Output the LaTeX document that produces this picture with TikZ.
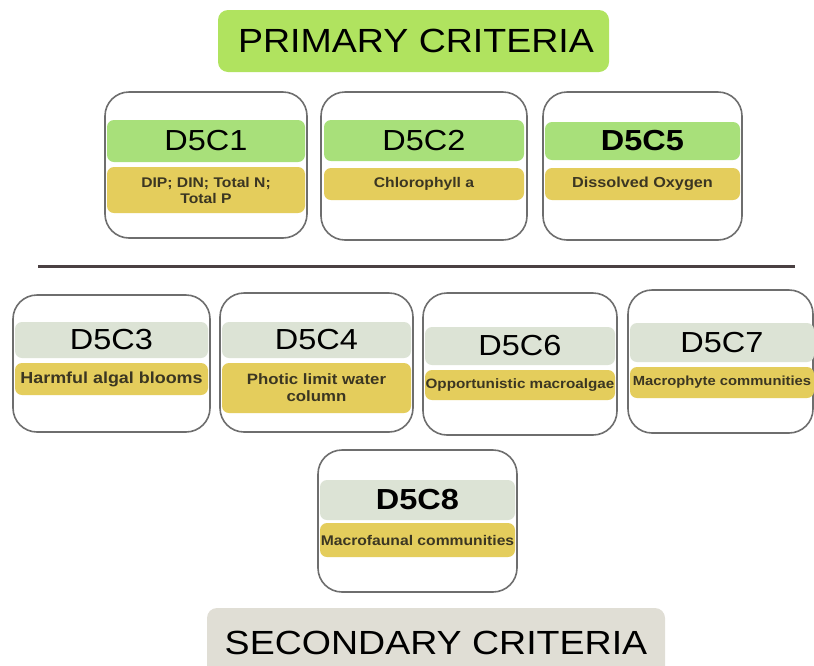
\documentclass[tikz,border=0pt]{standalone}
\usepackage{fontspec}
\setmainfont{Liberation Sans}[FakeStretch=1.12]
\usepackage{xcolor}
\usepackage{tikz}

\definecolor{titlegreen}{HTML}{B0E35F}
\definecolor{headgreen}{HTML}{A8E07A}
\definecolor{headgrey}{HTML}{DCE3D5}
\definecolor{subyellow}{HTML}{E4CD5C}
\definecolor{secgrey}{HTML}{E0DED5}
\definecolor{framegrey}{HTML}{6E6E6E}
\definecolor{rulebrown}{HTML}{4A4042}
\definecolor{subink}{HTML}{3B3622}
\newcommand{\fsz}[2]{\fontsize{#1}{#2}\selectfont}

\begin{document}
\begin{tikzpicture}[x=1pt,y=-1pt,
  frame/.style={draw=framegrey, line width=1.6pt, rounded corners=24pt, fill=white},
  headband/.style={rounded corners=7pt, inner sep=0pt, font=\fsz{29}{32}},
  subband/.style={rounded corners=7pt, inner sep=0pt, fill=subyellow, text=subink, align=center, font=\bfseries\fsz{14}{16}}]

\useasboundingbox (0,0) rectangle (814,665);

% primary criteria
\fill[titlegreen, rounded corners=10pt] (218,10) rectangle (609,72);
\node[font=\fsz{33.5}{36}, inner sep=0pt] (primary) at (416,41) {PRIMARY CRITERIA};

\draw[frame] (105,92) rectangle (307,238);
\node[headband, fill=headgreen, minimum width=198pt, minimum height=42pt] (c1) at (206,141) {D5C1};
\node[subband, minimum width=198pt, minimum height=46pt] (c1sub) at (206,190) {DIP; DIN; Total N;\\Total P};

\draw[frame] (321,92) rectangle (527,240);
\node[headband, fill=headgreen, minimum width=200pt, minimum height=41pt] (c2) at (424,140.5) {D5C2};
\node[subband, minimum width=200pt, minimum height=32pt] (c2sub) at (424,184) {Chlorophyll a};

\draw[frame] (543,92) rectangle (742,240);
\node[headband, fill=headgreen, minimum width=195pt, minimum height=38pt, font=\bfseries\fsz{29}{32}] (c5) at (642.5,141) {D5C5};
\node[subband, minimum width=195pt, minimum height=32pt, font=\bfseries\fsz{14.5}{17}] (c5sub) at (642.5,184) {Dissolved Oxygen};

% divider
\draw[rulebrown, line width=3pt] (38,266) -- (795,266);

% secondary criteria boxes
\draw[frame] (13,295) rectangle (210,432);
\node[headband, fill=headgrey, minimum width=193pt, minimum height=36pt] (c3) at (111.5,340) {D5C3};
\node[subband, minimum width=193pt, minimum height=32pt, font=\bfseries\fsz{16}{18}] (c3sub) at (111.5,379) {Harmful algal blooms};

\draw[frame] (220,293) rectangle (413,432);
\node[headband, fill=headgrey, minimum width=189pt, minimum height=36pt] (c4) at (316.5,340) {D5C4};
\node[subband, minimum width=189pt, minimum height=50pt, font=\bfseries\fsz{15}{17}] (c4sub) at (316.5,388) {Photic limit water\\column};

\draw[frame] (423,293) rectangle (617,435);
\node[headband, fill=headgrey, minimum width=190pt, minimum height=38pt] (c6) at (520,346) {D5C6};
\node[subband, minimum width=190pt, minimum height=30pt, font=\bfseries\fsz{13.6}{16}] (c6sub) at (520,385) {Opportunistic macroalgae};

\draw[frame] (628,290) rectangle (813,433);
\node[headband, fill=headgrey, minimum width=184pt, minimum height=39pt] (c7) at (722,342.5) {D5C7};
\node[subband, minimum width=184pt, minimum height=31pt, font=\bfseries\fsz{13.2}{16}] (c7sub) at (722,382.5) {Macrophyte communities};

\draw[frame] (318,450) rectangle (517,592);
\node[headband, fill=headgrey, minimum width=195pt, minimum height=40pt, font=\bfseries\fsz{29}{32}] (c8) at (417.5,500) {D5C8};
\node[subband, minimum width=195pt, minimum height=34pt] (c8sub) at (417.5,540) {Macrofaunal communities};

% secondary criteria
\fill[secgrey, rounded corners=10pt] (207,608) rectangle (665,690);
\node[font=\fsz{33.5}{36}, inner sep=0pt] (secondary) at (436,643) {SECONDARY CRITERIA};

\end{tikzpicture}
\end{document}
